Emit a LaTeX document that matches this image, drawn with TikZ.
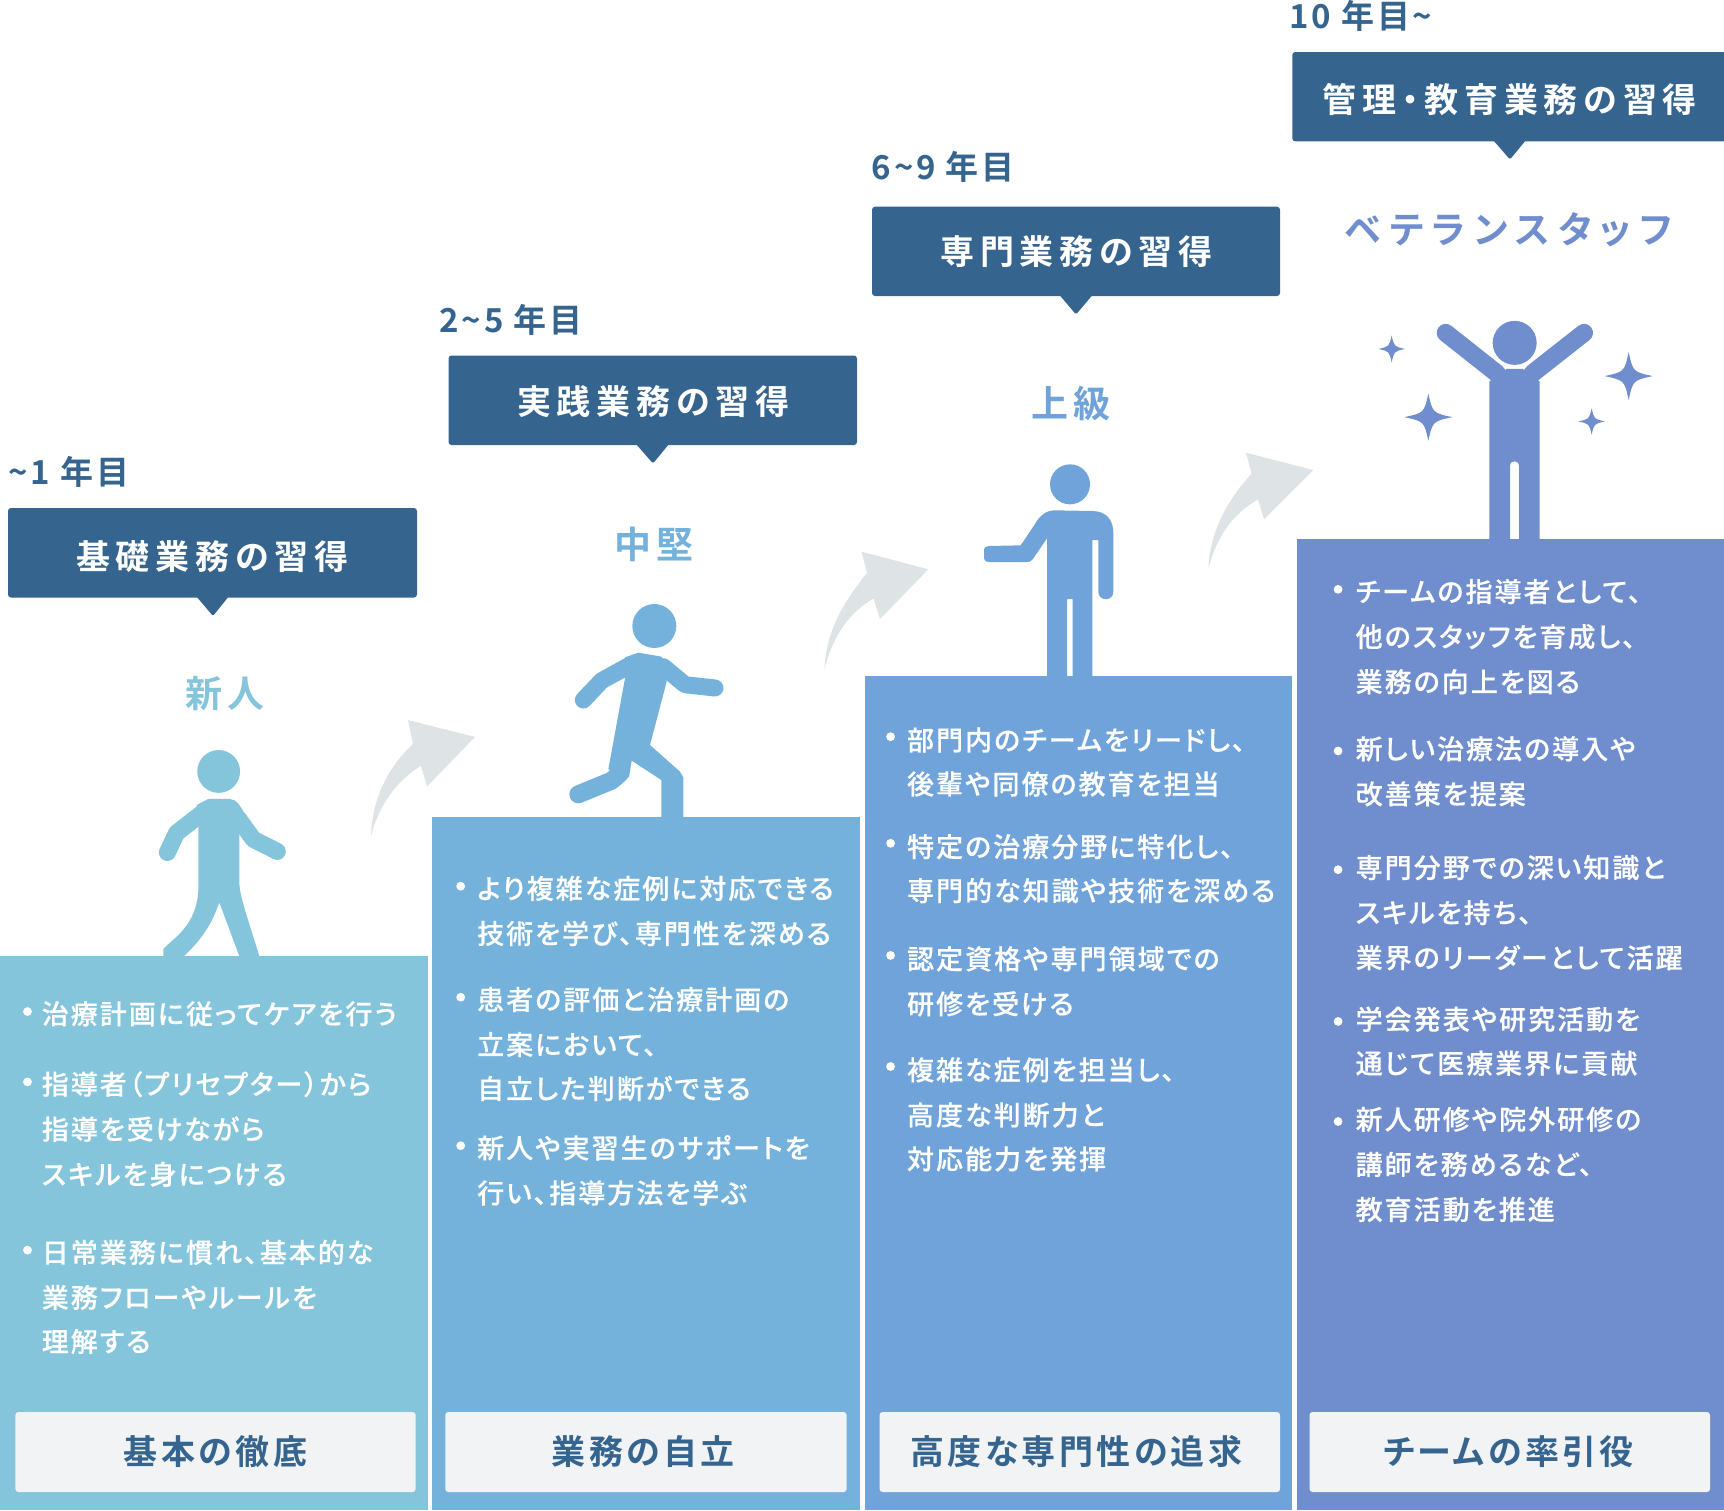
\documentclass[tikz,border=0pt]{standalone}
\usepackage{fontspec}
\setmainfont{Noto Sans CJK JP}
\newfontfamily\jpbody[RawFeature={+palt},LetterSpace=7.5,FakeBold=0.4]{Noto Sans CJK JP Medium}
\newfontfamily\jphead[RawFeature={+palt},LetterSpace=17]{Noto Sans CJK JP Bold}
\newfontfamily\jpfoot[RawFeature={+palt},LetterSpace=10]{Noto Sans CJK JP Bold}
\newfontfamily\jpyear[RawFeature={+palt},LetterSpace=8]{Noto Sans CJK JP Bold}
\newfontfamily\jprole[RawFeature={+palt},LetterSpace=14]{Noto Sans CJK JP Bold}
\newfontfamily\jpvet[RawFeature={+palt},LetterSpace=22]{Noto Sans CJK JP Bold}
\definecolor{cA}{HTML}{84C5DB}
\definecolor{cB}{HTML}{74B2DC}
\definecolor{cC}{HTML}{6FA3DA}
\definecolor{cD}{HTML}{708ECD}
\definecolor{navy}{HTML}{35648F}
\definecolor{footbg}{HTML}{F1F3F5}
\definecolor{arrowgrey}{HTML}{DEE4E6}
\tikzset{
  txtbase/.style={inner sep=0pt,outer sep=0pt},
  bodytxt/.style={txtbase,anchor=west,text=white,text height=23.8pt,text depth=3.2pt,font=\fontsize{27}{30}\selectfont\jpbody},
  headtxt/.style={txtbase,anchor=center,text=white,text height=29.9pt,text depth=4.1pt,font=\fontsize{34}{38}\selectfont\jphead},
  foottxt/.style={txtbase,anchor=center,text=navy,text height=29.9pt,text depth=4.1pt,font=\fontsize{34}{38}\selectfont\jpfoot},
  yeartxt/.style={txtbase,anchor=west,text=navy,text height=29pt,text depth=4pt,font=\fontsize{33}{38}\selectfont\jpyear},
  roletxt/.style={txtbase,anchor=center,text height=32.6pt,text depth=4.4pt,font=\fontsize{37}{42}\selectfont\jprole},
  vettxt/.style={roletxt,font=\fontsize{37}{42}\selectfont\jpvet},
  headbox/.style={fill=navy,rounded corners=3pt},
  headtip/.style={fill=navy,rounded corners=1.5pt},
  footbox/.style={fill=footbg,rounded corners=3pt},
  swoop/.style={fill=arrowgrey},
  limb/.style={line width=#1,line cap=round,line join=round},
  bulletdot/.style={fill=white}
}
\newcommand{\sparkle}[4]{({#1},{#2-#4}) .. controls ({#1+.18*#3},{#2-.18*#4}) .. ({#1+#3},{#2}) .. controls ({#1+.18*#3},{#2+.18*#4}) .. ({#1},{#2+#4}) .. controls ({#1-.18*#3},{#2+.18*#4}) .. ({#1-#3},{#2}) .. controls ({#1-.18*#3},{#2-.18*#4}) .. cycle}
\begin{document}
\begin{tikzpicture}[x=1pt,y=-1pt]
\useasboundingbox (0,0) rectangle (1724,1510);
% columns
\fill[cA] (0,955.5) rectangle (427.7,1510);
\fill[cB] (432.3,817.3) rectangle (860,1510);
\fill[cC] (864.7,676) rectangle (1292.3,1510);
\fill[cD] (1297,539.3) rectangle (1724,1510);
% foot boxes
\fill[footbox] (15.4,1412) rectangle (415.6,1492);
\fill[footbox] (445.3,1412) rectangle (846.6,1492);
\fill[footbox] (879.6,1412) rectangle (1280,1492);
\fill[footbox] (1309.5,1412) rectangle (1710,1492);
% head boxes
\fill[headbox] (8,508) rectangle (417,597.5);
\fill[headtip] (196,596) -- (229,596) -- (213,616) -- cycle;
\fill[headbox] (448.5,355.5) rectangle (857,445);
\fill[headtip] (636,444) -- (669,444) -- (653,463.5) -- cycle;
\fill[headbox] (872,206.7) rectangle (1280,296);
\fill[headtip] (1059.5,295) -- (1092.5,295) -- (1076,314.5) -- cycle;
\fill[headbox] (1292.3,52) rectangle (1730,141.4);
\fill[headtip] (1493,140) -- (1526,140) -- (1510,159.5) -- cycle;
% swoop arrows
\fill[swoop] (371,836) .. controls (372,797) and (390,765) .. (413,744) -- (408,720) -- (475,737) -- (427,786.5) -- (421,766) .. controls (397,780) and (379,805) .. cycle;
\fill[swoop] (824.5,669) .. controls (826,630) and (845,600) .. (867,573) -- (861.7,551.7) -- (928.3,569.3) -- (880,619) -- (873.5,598.5) .. controls (850,612) and (833,635) .. cycle;
\fill[swoop] (1208.5,568.5) .. controls (1210,530) and (1228,500) .. (1251.5,473.5) -- (1246,452.7) -- (1313.3,470) -- (1264,519.3) -- (1258,499.5) .. controls (1234,513) and (1217,535) .. cycle;
% figure 1
\begin{scope}[shift={(0,440)},x=0.33333pt,y=-0.35714pt,cA]
\fill (656,928) circle[radius=21.4pt];
\fill (595,1080) -- (590,1022) -- (625,1005) -- (690,1005) .. controls (710,1008) and (718,1020) .. (730,1040) -- (718,1090) -- (718,1240) .. controls (720,1280) and (740,1330) .. (778,1445) -- (718,1445) -- (658,1295) .. controls (640,1340) and (620,1385) .. (552,1445) -- (490,1445) -- (490,1425) .. controls (520,1395) and (590,1360) .. (595,1260) -- cycle;
\draw[limb=17pt,cA] (502,1155) -- (530,1100) -- (610,1042);
\draw[limb=17pt,cA] (715,1060) -- (760,1118) -- (832,1152);
\end{scope}
% figure 2
\begin{scope}[shift={(430,500)},x=0.33333pt,y=-0.33333pt,cB]
\fill (673,378) circle[radius=22pt];
\fill (585,472) -- (625,458) -- (695,470) -- (710,545) -- (660,735) -- (750,815) -- (760,832) -- (760,952) -- (694,952) -- (694,840) -- (605,782) -- (597,832) -- (535,808) -- (585,535) -- cycle;
\draw[limb=17pt,cB] (460,600) -- (515,542) -- (600,495);
\draw[limb=17pt,cB] (700,500) -- (765,554) -- (855,564);
\draw[limb=18pt,cB] (445,883) -- (545,842) -- (570,820) -- (575,790);
\end{scope}
% figure 3
\begin{scope}[shift={(960,430)},x=0.33333pt,y=-0.33333pt,cC]
\fill (330,163) circle[radius=20pt];
\fill (285,241) -- (400,243) .. controls (440,245) and (460,270) .. (460,310) -- (460,485) .. controls (460,515) and (415,515) .. (415,485) -- (415,330) -- (397,330) -- (397,738) -- (338,738) -- (338,507) -- (321,507) -- (321,738) -- (261,738) -- (261,325) -- (218,388) .. controls (212,395) and (208,396) .. (200,396) -- (88,396) .. controls (76,396) and (72,390) .. (72,380) -- (72,362) .. controls (72,352) and (76,350) .. (88,348) -- (182,346) -- (225,282) .. controls (240,255) and (260,241) .. (285,241) -- cycle;
\end{scope}
% figure 4
\begin{scope}[shift={(1280,0)},x=0.33333pt,y=-0.35714pt,cD]
\fill (704,960) circle[radius=22pt];
\fill (680,1033) -- (728,1033) -- (779,1068) -- (779,1510) -- (717,1510) -- (717,1305) .. controls (717,1287) and (690,1287) .. (690,1305) -- (690,1510) -- (628,1510) -- (628,1068) -- cycle;
\draw[limb=18pt,cD] (497,932) -- (650,1045);
\draw[limb=18pt,cD] (912,932) -- (758,1045);
\fill \sparkle{335}{977}{40}{38};
\fill \sparkle{1046}{1053}{72}{67};
\fill \sparkle{445}{1168}{72}{66};
\fill \sparkle{935}{1180}{40}{37};
\end{scope}
% text positioned in the 1568-wide reading of the picture
\begin{scope}[x=1.09949pt,y=-1.09949pt]
\node[yeartxt] (y1) at (8,429) {\textasciitilde 1 年目};
\node[yeartxt] (y2) at (400,291) {2\textasciitilde 5 年目};
\node[yeartxt] (y3) at (793,152) {6\textasciitilde 9 年目};
\node[yeartxt] (y4) at (1173,15) {10 年目\textasciitilde};
\node[headtxt] (h1) at (193,506) {基礎業務の習得};
\node[headtxt] (h2) at (594,365) {実践業務の習得};
\node[headtxt] (h3) at (979,229) {専門業務の習得};
\node[headtxt] (h4) at (1373,91) {管理・教育業務の習得};
\node[roletxt,text=cA] (r1) at (205,631) {新人};
\node[roletxt,text=cB] (r2) at (595,495) {中堅};
\node[roletxt,text=cC] (r3) at (974,367) {上級};
\node[vettxt,text=cD] (r4) at (1372,209) {ベテランスタッフ};
\node[foottxt] (f1) at (196,1320) {基本の徹底};
\node[foottxt] (f2) at (585,1320) {業務の自立};
\node[foottxt] (f3) at (979,1320) {高度な専門性の追求};
\node[foottxt] (f4) at (1372,1320) {チームの率引役};
\foreach \yy/\tt [count=\i] in {922/{治療計画に従ってケアを行う},986/{指導者（プリセプター）から},1027/{指導を受けながら},1068/{スキルを身につける},1139/{日常業務に慣れ、基本的な},1180/{業務フローやルールを},1220/{理解する}}
  \node[bodytxt] (ta\i) at (38,\yy) {\tt};
\foreach \yy/\tt [count=\i] in {808/{より複雑な症例に対応できる},849/{技術を学び、専門性を深める},909/{患者の評価と治療計画の},950/{立案において、},990/{自立した判断ができる},1044/{新人や実習生のサポートを},1085/{行い、指導方法を学ぶ}}
  \node[bodytxt] (tb\i) at (434,\yy) {\tt};
\foreach \yy/\tt [count=\i] in {673/{部門内のチームをリードし、},713/{後輩や同僚の教育を担当},770/{特定の治療分野に特化し、},810/{専門的な知識や技術を深める},872/{認定資格や専門領域での},913/{研修を受ける},973/{複雑な症例を担当し、},1014/{高度な判断力と},1054/{対応能力を発揮}}
  \node[bodytxt] (tc\i) at (825,\yy) {\tt};
\foreach \yy/\tt [count=\i] in {538/{チームの指導者として、},579/{他のスタッフを育成し、},620/{業務の向上を図る},681/{新しい治療法の導入や},722/{改善策を提案},789/{専門分野での深い知識と},830/{スキルを持ち、},871/{業界のリーダーとして活躍},927/{学会発表や研究活動を},967/{通じて医療業界に貢献},1018/{新人研修や院外研修の},1059/{講師を務めるなど、},1100/{教育活動を推進}}
  \node[bodytxt] (td\i) at (1233,\yy) {\tt};
\foreach \yy in {920,984,1137} \fill[bulletdot] (25,\yy) circle[radius=4.4pt];
\foreach \yy in {806,907,1042} \fill[bulletdot] (419,\yy) circle[radius=4.4pt];
\foreach \yy in {670,767,869,970} \fill[bulletdot] (810,\yy) circle[radius=4.4pt];
\foreach \yy in {536,683,791,929,1020} \fill[bulletdot] (1217,\yy) circle[radius=4.4pt];
\end{scope}
\end{tikzpicture}
\end{document}
